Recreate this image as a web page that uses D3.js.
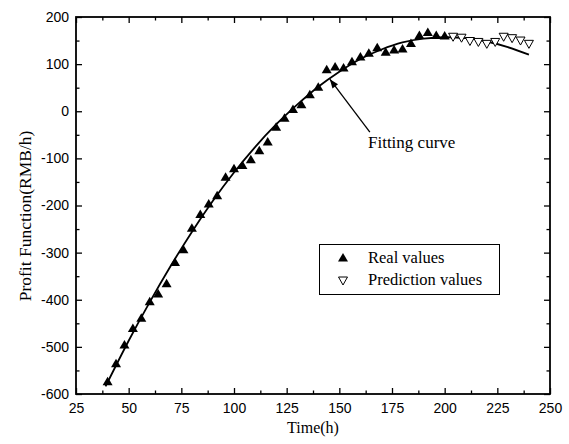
<!DOCTYPE html>
<html>
<head>
<meta charset="utf-8">
<script src="https://cdn.jsdelivr.net/npm/d3@7"></script>
<style>
  html, body { margin: 0; padding: 0; background: #fff; }
  svg { display: block; }
  .tick-label { font-family: "Liberation Sans", Arial, sans-serif; font-size: 14px; fill: #000; }
  .serif { font-family: "Liberation Serif", "Times New Roman", serif; fill: #000; }
</style>
</head>
<body>
<svg id="chart" width="569" height="444"></svg>
<script>
// Measured operating hours (h) and profit (RMB/h)
const realTime = [40, 44, 48, 52, 56, 60, 64, 68, 72, 76,
                  80, 84, 88, 92, 96, 100, 104, 108, 112, 116,
                  120, 124, 128, 132, 136, 140, 144, 148, 152, 156,
                  160, 164, 168, 172, 176, 180, 184, 188, 192, 196, 200];
const realValues = [-573, -535, -495, -460, -438, -403, -387, -365, -320, -293,
                    -247, -218, -196, -178, -139, -121, -114, -102, -83, -64,
                    -33, -14, 5, 15, 36, 52, 89, 95, 93, 106,
                    116, 124, 136, 126, 131, 133, 145, 162, 168, 162, 161];

// Predicted profit beyond the observed window
const predTime = [204, 208, 212, 216, 220, 224, 228, 232, 236, 240];
const predValues = [157, 155, 148, 146, 142, 146, 157, 154, 149, 142];

// Fitted curve, sampled along its length
const fitTime = [39, 50, 60, 70, 80, 90, 100, 110, 120, 130, 140, 150, 160, 170, 180, 190, 200, 210, 220, 230, 240];
const fitValues = [-584, -487, -405, -328, -256, -190, -130, -76, -28, 14, 52, 84, 111, 131, 146, 154, 157, 155, 148, 136, 120];

// Axis ticks
const xMajorTicks = [25, 50, 75, 100, 125, 150, 175, 200, 225, 250];
const yMajorTicks = [-600, -500, -400, -300, -200, -100, 0, 100, 200];

const legendLabels = ["Real values", "Prediction values"];
const xTitle = "Time(h)";
const yTitle = "Profit Function(RMB/h)";
const curveLabel = "Fitting curve";

const svg = d3.select("#chart");
const plotLeft = 76, plotRight = 550, plotTop = 17, plotBottom = 394;

const x = d3.scaleLinear().domain([25, 250]).range([plotLeft, plotRight]);
const y = d3.scaleLinear().domain([-600, 200]).range([plotBottom, plotTop]);

const xMinor = d3.range(25, 250.01, 12.5).filter(v => !xMajorTicks.includes(v));
const yMinor = d3.range(-600, 200.01, 50).filter(v => !yMajorTicks.includes(v));

// Plain ASCII hyphen for negative numbers
const plainNum = d => String(d);

function styleAxis(g) {
  g.select(".domain").remove();
  g.selectAll(".tick line").attr("stroke", "#000").attr("stroke-width", 1.3);
}
function styleLabels(g) {
  g.selectAll("text").attr("class", "tick-label");
  g.attr("font-family", null).attr("font-size", null);
}

// Major ticks with labels (bottom, left)
svg.append("g").attr("transform", `translate(0,${plotBottom})`)
  .call(d3.axisBottom(x).tickValues(xMajorTicks).tickSizeInner(-6).tickSizeOuter(0).tickPadding(9).tickFormat(plainNum))
  .call(styleAxis).call(styleLabels);

svg.append("g").attr("transform", `translate(${plotLeft},0)`)
  .call(d3.axisLeft(y).tickValues(yMajorTicks).tickSizeInner(-6).tickSizeOuter(0).tickPadding(7).tickFormat(plainNum))
  .call(styleAxis).call(styleLabels);

// Minor ticks bottom/left
svg.append("g").attr("transform", `translate(0,${plotBottom})`)
  .call(d3.axisBottom(x).tickValues(xMinor).tickSizeInner(-3.5).tickSizeOuter(0).tickFormat(""))
  .call(styleAxis);
svg.append("g").attr("transform", `translate(${plotLeft},0)`)
  .call(d3.axisLeft(y).tickValues(yMinor).tickSizeInner(-3.5).tickSizeOuter(0).tickFormat(""))
  .call(styleAxis);

// Mirrored ticks on top and right
svg.append("g").attr("transform", `translate(0,${plotTop})`)
  .call(d3.axisTop(x).tickValues(xMajorTicks).tickSizeInner(-6).tickSizeOuter(0).tickFormat(""))
  .call(styleAxis);
svg.append("g").attr("transform", `translate(0,${plotTop})`)
  .call(d3.axisTop(x).tickValues(xMinor).tickSizeInner(-3.5).tickSizeOuter(0).tickFormat(""))
  .call(styleAxis);
svg.append("g").attr("transform", `translate(${plotRight},0)`)
  .call(d3.axisRight(y).tickValues(yMajorTicks).tickSizeInner(-6).tickSizeOuter(0).tickFormat(""))
  .call(styleAxis);
svg.append("g").attr("transform", `translate(${plotRight},0)`)
  .call(d3.axisRight(y).tickValues(yMinor).tickSizeInner(-3.5).tickSizeOuter(0).tickFormat(""))
  .call(styleAxis);

// Plot frame
svg.append("rect")
  .attr("x", plotLeft).attr("y", plotTop)
  .attr("width", plotRight - plotLeft).attr("height", plotBottom - plotTop)
  .attr("fill", "none").attr("stroke", "#000").attr("stroke-width", 1.8);

// Fitted curve
const fitPts = fitTime.map((t, i) => [t, fitValues[i]]);
svg.append("path")
  .datum(fitPts)
  .attr("d", d3.line().x(d => x(d[0])).y(d => y(d[1])).curve(d3.curveNatural))
  .attr("fill", "none").attr("stroke", "#000").attr("stroke-width", 1.8);

// Marker shapes: filled up-triangle and hollow down-triangle
const upTri = (cx, cy) => `M${cx},${cy - 4.5}L${cx + 5},${cy + 4}L${cx - 5},${cy + 4}Z`;
const downTri = (cx, cy) => `M${cx - 4.5},${cy - 4}L${cx + 4.5},${cy - 4}L${cx},${cy + 4}Z`;

svg.append("g").selectAll("path")
  .data(realTime.map((t, i) => [t, realValues[i]]))
  .join("path")
  .attr("d", d => upTri(x(d[0]), y(d[1])))
  .attr("fill", "#000");

svg.append("g").selectAll("path")
  .data(predTime.map((t, i) => [t, predValues[i]]))
  .join("path")
  .attr("d", d => downTri(x(d[0]), y(d[1])))
  .attr("fill", "#fff").attr("stroke", "#000").attr("stroke-width", 1);

// Annotation arrow pointing at the fitted curve
const tipT = 145.5, tipV = 68;
const tip = [x(tipT), y(tipV)];
const tail = [tip[0] + 40, tip[1] + 53];
svg.append("line")
  .attr("x1", tail[0]).attr("y1", tail[1]).attr("x2", tip[0]).attr("y2", tip[1])
  .attr("stroke", "#000").attr("stroke-width", 1.3);
const ang = Math.atan2(tip[1] - tail[1], tip[0] - tail[0]);
const aL = 9, aW = 3.5;
const bx = tip[0] - aL * Math.cos(ang), by = tip[1] - aL * Math.sin(ang);
svg.append("path")
  .attr("d", `M${tip[0]},${tip[1]}L${bx + aW * Math.sin(ang)},${by - aW * Math.cos(ang)}L${bx - aW * Math.sin(ang)},${by + aW * Math.cos(ang)}Z`)
  .attr("fill", "#000");
svg.append("text").attr("class", "serif")
  .attr("x", 368).attr("y", 148).attr("font-size", 17)
  .text(curveLabel);

// Legend
const lg = svg.append("g");
lg.append("rect")
  .attr("x", 319.5).attr("y", 244.5).attr("width", 180).attr("height", 50)
  .attr("fill", "#fff").attr("stroke", "#000").attr("stroke-width", 1);
lg.append("path").attr("d", upTri(343, 257.5)).attr("fill", "#000");
lg.append("path").attr("d", downTri(343, 281)).attr("fill", "#fff").attr("stroke", "#000").attr("stroke-width", 1);
lg.selectAll("text.leg")
  .data(legendLabels)
  .join("text")
  .attr("class", "serif leg")
  .attr("x", 368).attr("y", (d, i) => 263 + i * 22)
  .attr("font-size", 16.5)
  .text(d => d);

// Axis titles
svg.append("text").attr("class", "serif")
  .attr("x", (plotLeft + plotRight) / 2).attr("y", 433)
  .attr("text-anchor", "middle").attr("font-size", 16)
  .text(xTitle);
svg.append("text").attr("class", "serif")
  .attr("transform", "translate(31,216) rotate(-90)")
  .attr("text-anchor", "middle").attr("font-size", 17.5)
  .text(yTitle);
</script>
</body>
</html>
